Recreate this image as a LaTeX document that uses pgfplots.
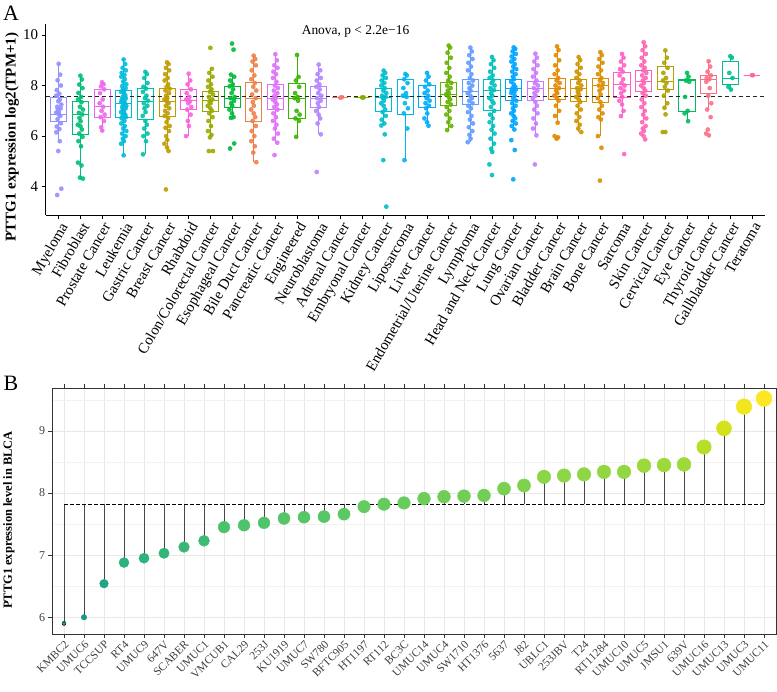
\documentclass[border=0pt]{standalone}
\usepackage{pgfplots}
\pgfplotsset{compat=1.18}
\usepackage{pgfplotstable}
\usepgfplotslibrary{statistics}
\usepackage{fontspec}
\setmainfont{Liberation Serif}

\definecolor{c1}{HTML}{9191FF}
\definecolor{c2}{HTML}{00BF78}
\definecolor{c3}{HTML}{EE67EC}
\definecolor{c4}{HTML}{00BBDB}
\definecolor{c5}{HTML}{00C1A7}
\definecolor{c6}{HTML}{BF9C00}
\definecolor{c7}{HTML}{F962DC}
\definecolor{c8}{HTML}{9BA800}
\definecolor{c9}{HTML}{00BA38}
\definecolor{c10}{HTML}{EF7F49}
\definecolor{c11}{HTML}{DF70F8}
\definecolor{c12}{HTML}{37B600}
\definecolor{c13}{HTML}{B385FF}
\definecolor{c14}{HTML}{F8766D}
\definecolor{c15}{HTML}{84AD00}
\definecolor{c16}{HTML}{00BECE}
\definecolor{c17}{HTML}{00B5EE}
\definecolor{c18}{HTML}{00ACFC}
\definecolor{c19}{HTML}{65B200}
\definecolor{c20}{HTML}{619CFF}
\definecolor{c21}{HTML}{00C0BB}
\definecolor{c22}{HTML}{00A5FF}
\definecolor{c23}{HTML}{CC7AFD}
\definecolor{c24}{HTML}{E58700}
\definecolor{c25}{HTML}{CF9400}
\definecolor{c26}{HTML}{DB8E00}
\definecolor{c27}{HTML}{FF61C9}
\definecolor{c28}{HTML}{FF63B5}
\definecolor{c29}{HTML}{AEA200}
\definecolor{c30}{HTML}{00BD5C}
\definecolor{c31}{HTML}{FD6F86}
\definecolor{c32}{HTML}{00C091}
\definecolor{c33}{HTML}{FF67A0}

\pgfplotstableread[row sep=\\]{
x y c\\
1.00 8.86 0\\1.07 8.43 0\\0.95 8.21 0\\1.10 8.00 0\\0.91 7.82 0\\1.03 7.68 0\\0.89 7.60 0\\1.05 7.45 0\\0.98 7.38 0\\1.12 7.25 0\\0.93 7.16 0\\1.09 7.10 0\\0.96 7.05 0\\1.01 6.95 0\\0.88 6.92 0\\1.00 6.86 0\\1.07 6.80 0\\0.95 6.67 0\\1.10 6.51 0\\0.91 6.38 0\\1.03 6.28 0\\0.89 6.15 0\\1.05 5.80 0\\0.98 5.41 0\\1.12 3.92 0\\0.93 3.67 0\\
2.00 8.39 1\\2.07 8.24 1\\1.95 8.04 1\\2.10 7.90 1\\1.91 7.71 1\\2.03 7.55 1\\1.89 7.45 1\\2.05 7.34 1\\1.98 7.16 1\\2.12 7.05 1\\1.93 6.92 1\\2.09 6.86 1\\1.96 6.72 1\\2.01 6.59 1\\1.88 6.45 1\\2.00 6.39 1\\2.07 6.26 1\\1.95 6.10 1\\2.10 5.97 1\\1.91 5.80 1\\2.03 5.60 1\\1.89 4.95 1\\2.05 4.84 1\\1.98 4.36 1\\2.12 4.32 1\\
3.00 8.13 2\\3.07 8.05 2\\2.95 7.97 2\\3.10 7.85 2\\2.91 7.70 2\\3.03 7.45 2\\2.89 7.30 2\\3.05 7.16 2\\2.98 7.00 2\\3.12 6.85 2\\2.93 6.75 2\\3.09 6.60 2\\2.96 6.35 2\\3.01 6.22 2\\
4.00 9.03 3\\4.07 8.85 3\\3.95 8.70 3\\4.10 8.60 3\\3.91 8.50 3\\4.03 8.42 3\\3.89 8.35 3\\4.05 8.25 3\\3.98 8.15 3\\4.12 8.05 3\\3.93 7.98 3\\4.09 7.90 3\\3.96 7.85 3\\4.01 7.80 3\\3.88 7.75 3\\
4.00 7.70 3\\4.07 7.62 3\\3.95 7.55 3\\4.10 7.50 3\\3.91 7.45 3\\4.03 7.40 3\\3.89 7.35 3\\4.05 7.30 3\\3.98 7.25 3\\4.12 7.20 3\\3.93 7.15 3\\4.09 7.10 3\\3.96 7.05 3\\4.01 7.00 3\\3.88 6.95 3\\
4.00 6.90 3\\4.07 6.85 3\\3.95 6.80 3\\4.10 6.75 3\\3.91 6.70 3\\4.03 6.60 3\\3.89 6.50 3\\4.05 6.40 3\\3.98 6.30 3\\4.12 6.20 3\\3.93 6.10 3\\4.09 6.00 3\\3.96 5.90 3\\4.01 5.80 3\\3.88 5.70 3\\4.00 5.24 3\\
5.00 8.54 4\\5.07 8.45 4\\4.95 8.30 4\\5.10 8.10 4\\4.91 7.95 4\\5.03 7.88 4\\4.89 7.75 4\\5.05 7.60 4\\4.98 7.50 4\\5.12 7.40 4\\4.93 7.30 4\\5.09 7.20 4\\4.96 7.10 4\\5.01 6.95 4\\4.88 6.80 4\\5.00 6.60 4\\5.07 6.45 4\\4.95 6.30 4\\5.10 6.10 4\\4.91 6.00 4\\5.03 5.80 4\\4.89 5.28 4\\
6.00 8.92 5\\6.07 8.85 5\\5.95 8.70 5\\6.10 8.60 5\\5.91 8.45 5\\6.03 8.30 5\\5.89 8.20 5\\6.05 8.05 5\\5.98 7.95 5\\6.12 7.88 5\\5.93 7.80 5\\6.09 7.70 5\\5.96 7.60 5\\6.01 7.50 5\\5.88 7.45 5\\6.00 7.37 5\\6.07 7.30 5\\5.95 7.20 5\\6.10 7.10 5\\5.91 7.00 5\\6.03 6.90 5\\5.89 6.80 5\\6.05 6.70 5\\5.98 6.55 5\\6.12 6.40 5\\5.93 6.33 5\\6.09 6.20 5\\5.96 6.00 5\\6.01 5.85 5\\5.88 5.70 5\\6.00 5.55 5\\6.07 5.41 5\\5.95 3.89 5\\
7.00 8.47 6\\7.07 8.20 6\\6.95 8.05 6\\7.10 7.85 6\\6.91 7.70 6\\7.03 7.55 6\\6.89 7.45 6\\7.05 7.38 6\\6.98 7.30 6\\7.12 7.15 6\\6.93 7.05 6\\7.09 6.85 6\\6.96 6.60 6\\7.01 6.40 6\\6.88 6.00 6\\
8.00 9.49 7\\8.07 8.66 7\\7.95 8.50 7\\8.10 8.35 7\\7.91 8.20 7\\8.03 8.05 7\\7.89 7.95 7\\8.05 7.85 7\\7.98 7.75 7\\8.12 7.65 7\\7.93 7.55 7\\8.09 7.45 7\\7.96 7.38 7\\8.01 7.30 7\\7.88 7.20 7\\8.00 7.10 7\\8.07 7.00 7\\7.95 6.90 7\\8.10 6.75 7\\7.91 6.60 7\\8.03 6.40 7\\7.89 6.20 7\\8.05 6.05 7\\7.98 5.95 7\\8.12 5.41 7\\7.93 5.41 7\\
9.00 9.66 8\\9.07 9.42 8\\8.95 8.43 8\\9.10 8.35 8\\8.91 8.20 8\\9.03 8.05 8\\8.89 7.97 8\\9.05 7.85 8\\8.98 7.70 8\\9.12 7.55 8\\8.93 7.50 8\\9.09 7.40 8\\8.96 7.30 8\\9.01 7.20 8\\8.88 7.05 8\\9.00 6.90 8\\9.07 6.75 8\\8.95 6.72 8\\9.10 5.71 8\\8.91 5.51 8\\
10.00 9.18 9\\10.07 9.05 9\\9.95 8.95 9\\10.10 8.80 9\\9.91 8.60 9\\10.03 8.40 9\\9.89 8.25 9\\10.05 8.10 9\\9.98 7.95 9\\10.12 7.80 9\\9.93 7.65 9\\10.09 7.50 9\\9.96 7.35 9\\10.01 7.20 9\\9.88 7.05 9\\10.00 6.90 9\\10.07 6.75 9\\9.95 6.60 9\\10.10 6.40 9\\9.91 6.20 9\\10.03 6.00 9\\9.89 5.80 9\\10.05 5.60 9\\9.98 5.35 9\\10.12 4.97 9\\
11.00 9.24 10\\11.07 9.00 10\\10.95 8.80 10\\11.10 8.70 10\\10.91 8.55 10\\11.03 8.45 10\\10.89 8.30 10\\11.05 8.15 10\\10.98 8.00 10\\11.12 7.90 10\\10.93 7.80 10\\11.09 7.70 10\\10.96 7.60 10\\11.01 7.50 10\\10.88 7.45 10\\11.00 7.35 10\\11.07 7.25 10\\10.95 7.15 10\\11.10 7.05 10\\10.91 6.90 10\\11.03 6.75 10\\10.89 6.60 10\\11.05 6.45 10\\10.98 6.30 10\\11.12 6.10 10\\10.93 5.90 10\\11.09 5.74 10\\10.96 5.25 10\\
12.00 9.21 11\\12.07 8.34 11\\11.95 8.20 11\\12.10 7.95 11\\11.91 7.70 11\\12.03 7.55 11\\11.89 7.50 11\\12.05 7.40 11\\11.98 7.00 11\\12.12 6.85 11\\11.93 6.70 11\\12.09 6.60 11\\11.96 5.97 11\\
13.00 8.83 12\\13.07 8.60 12\\12.95 8.45 12\\13.10 8.30 12\\12.91 8.20 12\\13.03 8.05 12\\12.89 7.95 12\\13.05 7.85 12\\12.98 7.70 12\\13.12 7.60 12\\12.93 7.50 12\\13.09 7.40 12\\12.96 7.30 12\\13.01 7.15 12\\12.88 7.00 12\\13.00 6.85 12\\13.07 6.70 12\\12.95 6.50 12\\13.10 6.07 12\\12.91 4.58 12\\
14.00 7.52 13\\14.07 7.54 13\\
15.00 7.53 14\\15.07 7.53 14\\
16.00 8.59 15\\16.07 8.50 15\\15.95 8.40 15\\16.10 8.30 15\\15.91 8.20 15\\16.03 8.10 15\\15.89 8.00 15\\16.05 7.90 15\\15.98 7.80 15\\16.12 7.70 15\\15.93 7.60 15\\16.09 7.55 15\\15.96 7.50 15\\16.01 7.40 15\\15.88 7.30 15\\16.00 7.20 15\\16.07 7.05 15\\15.95 6.95 15\\16.10 6.80 15\\15.91 6.65 15\\16.03 6.50 15\\15.89 6.42 15\\16.05 6.07 15\\15.98 5.05 15\\16.12 3.21 15\\
17.00 8.46 16\\17.07 8.40 16\\16.95 8.25 16\\17.10 8.10 16\\16.91 7.90 16\\17.03 7.70 16\\16.89 7.60 16\\17.05 7.55 16\\16.98 7.30 16\\17.12 7.10 16\\16.93 6.90 16\\17.09 6.30 16\\16.96 5.05 16\\
18.00 8.50 17\\18.07 8.35 17\\17.95 8.20 17\\18.10 8.05 17\\17.91 7.95 17\\18.03 7.80 17\\17.89 7.70 17\\18.05 7.60 17\\17.98 7.50 17\\18.12 7.40 17\\17.93 7.30 17\\18.09 7.20 17\\17.96 7.10 17\\18.01 6.90 17\\17.88 6.70 17\\18.00 6.55 17\\18.07 6.41 17\\
19.00 9.58 18\\19.07 9.50 18\\18.95 9.30 18\\19.10 9.10 18\\18.91 8.90 18\\19.03 8.70 18\\18.89 8.50 18\\19.05 8.35 18\\18.98 8.20 18\\19.12 8.10 18\\18.93 8.00 18\\19.09 7.90 18\\18.96 7.80 18\\19.01 7.70 18\\18.88 7.65 18\\19.00 7.55 18\\19.07 7.45 18\\18.95 7.35 18\\19.10 7.25 18\\18.91 7.15 18\\19.03 7.00 18\\18.89 6.85 18\\19.05 6.70 18\\18.98 6.55 18\\19.12 6.40 18\\18.93 6.24 18\\
20.00 9.50 19\\20.07 9.35 19\\19.95 9.20 19\\20.10 9.05 19\\19.91 8.90 19\\20.03 8.75 19\\19.89 8.60 19\\20.05 8.45 19\\19.98 8.30 19\\20.12 8.20 19\\19.93 8.10 19\\20.09 8.00 19\\19.96 7.90 19\\20.01 7.80 19\\19.88 7.70 19\\20.00 7.60 19\\20.07 7.50 19\\19.95 7.40 19\\20.10 7.30 19\\19.91 7.20 19\\20.03 7.10 19\\19.89 6.95 19\\20.05 6.80 19\\19.98 6.65 19\\20.12 6.50 19\\19.93 6.35 19\\20.09 6.20 19\\19.96 6.05 19\\20.01 5.90 19\\19.88 5.76 19\\
21.00 9.13 20\\21.07 9.00 20\\20.95 8.85 20\\21.10 8.70 20\\20.91 8.55 20\\21.03 8.40 20\\20.89 8.30 20\\21.05 8.20 20\\20.98 8.10 20\\21.12 8.00 20\\20.93 7.90 20\\21.09 7.82 20\\20.96 7.70 20\\21.01 7.60 20\\20.88 7.50 20\\21.00 7.40 20\\21.07 7.30 20\\20.95 7.15 20\\21.10 7.00 20\\20.91 6.85 20\\21.03 6.70 20\\20.89 6.55 20\\21.05 6.40 20\\20.98 6.25 20\\21.12 6.10 20\\20.93 5.90 20\\21.09 5.70 20\\20.96 5.50 20\\21.01 5.37 20\\20.88 4.88 20\\21.00 4.46 20\\
22.00 9.51 21\\22.07 9.45 21\\21.95 9.35 21\\22.10 9.25 21\\21.91 9.15 21\\22.03 9.05 21\\21.89 8.95 21\\22.05 8.85 21\\21.98 8.75 21\\22.12 8.65 21\\21.93 8.55 21\\22.09 8.45 21\\21.96 8.35 21\\22.01 8.25 21\\21.88 8.15 21\\22.00 8.05 21\\22.07 7.95 21\\21.95 7.90 21\\22.10 7.85 21\\21.91 7.80 21\\22.03 7.75 21\\21.89 7.70 21\\22.05 7.60 21\\21.98 7.50 21\\22.12 7.40 21\\21.93 7.30 21\\22.09 7.20 21\\21.96 7.10 21\\22.01 7.00 21\\21.88 6.90 21\\22.00 6.80 21\\22.07 6.70 21\\21.95 6.60 21\\22.10 6.50 21\\21.91 6.40 21\\22.03 6.26 21\\21.89 5.84 21\\22.05 5.45 21\\21.98 4.29 21\\
23.00 9.26 22\\23.07 9.10 22\\22.95 8.95 22\\23.10 8.80 22\\22.91 8.65 22\\23.03 8.50 22\\22.89 8.35 22\\23.05 8.20 22\\22.98 8.10 22\\23.12 8.00 22\\22.93 7.90 22\\23.09 7.80 22\\22.96 7.70 22\\23.01 7.60 22\\22.88 7.50 22\\23.00 7.35 22\\23.07 7.20 22\\22.95 7.05 22\\23.10 6.90 22\\22.91 6.70 22\\23.03 6.50 22\\22.89 6.30 22\\23.05 6.03 22\\22.98 4.88 22\\
24.00 9.55 23\\24.07 9.40 23\\23.95 9.20 23\\24.10 9.00 23\\23.91 8.80 23\\24.03 8.60 23\\23.89 8.45 23\\24.05 8.30 23\\23.98 8.20 23\\24.12 8.10 23\\23.93 8.00 23\\24.09 7.90 23\\23.96 7.80 23\\24.01 7.70 23\\23.88 7.60 23\\24.00 7.50 23\\24.07 7.40 23\\23.95 7.20 23\\24.10 7.00 23\\23.91 6.80 23\\24.03 6.53 23\\23.89 6.00 23\\24.05 5.95 23\\23.98 5.90 23\\
25.00 9.13 24\\25.07 9.00 24\\24.95 8.85 24\\25.10 8.70 24\\24.91 8.55 24\\25.03 8.45 24\\24.89 8.30 24\\25.05 8.20 24\\24.98 8.10 24\\25.12 8.00 24\\24.93 7.90 24\\25.09 7.85 24\\24.96 7.75 24\\25.01 7.65 24\\24.88 7.55 24\\25.00 7.45 24\\25.07 7.35 24\\24.95 7.20 24\\25.10 7.05 24\\24.91 6.90 24\\25.03 6.75 24\\24.89 6.60 24\\25.05 6.45 24\\24.98 6.30 24\\25.12 6.16 24\\
26.00 9.32 25\\26.07 9.20 25\\25.95 9.05 25\\26.10 8.90 25\\25.91 8.75 25\\26.03 8.60 25\\25.89 8.45 25\\26.05 8.30 25\\25.98 8.20 25\\26.12 8.10 25\\25.93 8.00 25\\26.09 7.90 25\\25.96 7.80 25\\26.01 7.65 25\\25.88 7.50 25\\26.00 7.35 25\\26.07 7.20 25\\25.95 7.05 25\\26.10 6.90 25\\25.91 6.75 25\\26.03 6.66 25\\25.89 6.00 25\\26.05 5.54 25\\25.98 4.24 25\\
27.00 9.25 26\\27.07 9.10 26\\26.95 8.95 26\\27.10 8.80 26\\26.91 8.65 26\\27.03 8.55 26\\26.89 8.40 26\\27.05 8.25 26\\26.98 8.10 26\\27.12 8.00 26\\26.93 7.90 26\\27.09 7.80 26\\26.96 7.70 26\\27.01 7.55 26\\26.88 7.40 26\\27.00 7.25 26\\27.07 7.00 26\\26.95 6.79 26\\27.10 5.29 26\\
28.00 9.71 27\\28.07 9.55 27\\27.95 9.40 27\\28.10 9.25 27\\27.91 9.10 27\\28.03 8.95 27\\27.89 8.80 27\\28.05 8.70 27\\27.98 8.60 27\\28.12 8.50 27\\27.93 8.40 27\\28.09 8.30 27\\27.96 8.20 27\\28.01 8.10 27\\27.88 8.00 27\\28.00 7.90 27\\28.07 7.80 27\\27.95 7.70 27\\28.10 7.60 27\\27.91 7.45 27\\28.03 7.30 27\\27.89 7.15 27\\28.05 7.00 27\\27.98 6.85 27\\28.12 6.70 27\\27.93 6.55 27\\28.09 6.40 27\\27.96 6.30 27\\28.01 6.20 27\\27.88 6.10 27\\28.00 6.00 27\\28.07 5.87 27\\
29.00 9.39 28\\29.07 9.10 28\\28.95 8.90 28\\29.10 8.70 28\\28.91 8.50 28\\29.03 8.30 28\\28.89 8.20 28\\29.05 8.10 28\\28.98 7.95 28\\29.12 7.80 28\\28.93 7.60 28\\29.09 7.30 28\\28.96 7.12 28\\29.01 6.86 28\\28.88 6.16 28\\29.00 6.16 28\\
30.00 8.50 29\\30.07 8.35 29\\29.95 8.20 29\\30.10 8.15 29\\29.91 7.55 29\\30.03 7.00 29\\29.89 6.90 29\\30.05 6.59 29\\
31.00 8.96 30\\31.07 8.75 30\\30.95 8.55 30\\31.10 8.40 30\\30.91 8.30 30\\31.03 8.25 30\\30.89 8.15 30\\31.05 7.90 30\\30.98 7.60 30\\31.12 7.30 30\\30.93 7.05 30\\31.09 6.75 30\\30.96 6.26 30\\31.01 6.03 30\\30.88 6.10 30\\
32.00 9.16 31\\32.07 9.10 31\\31.95 8.50 31\\32.10 8.30 31\\31.91 7.95 31\\32.03 7.84 31\\
33.00 8.41 32\\33.04 8.41 32\\
}\ptsA

\pgfplotstableread{
x y
1 5.90
2 6.00
3 6.54
4 6.88
5 6.95
6 7.03
7 7.13
8 7.23
9 7.45
10 7.48
11 7.52
12 7.59
13 7.61
14 7.62
15 7.66
16 7.78
17 7.82
18 7.84
19 7.91
20 7.94
21 7.95
22 7.96
23 8.07
24 8.12
25 8.26
26 8.28
27 8.30
28 8.34
29 8.34
30 8.44
31 8.45
32 8.46
33 8.74
34 9.04
35 9.39
36 9.52
}\ptsB

% box (colour, position, whiskers/quartiles/median) followed by that category's points
\newcommand{\bx}[7]{%
\addplot[draw=#1, fill=white, line width=0.8bp, solid, mark=none,
  boxplot/draw direction=y,
  boxplot prepared={draw position=#2, lower whisker=#3, lower quartile=#4, median=#5,
  upper quartile=#6, upper whisker=#7, box extend=0.75, whisker extend=0}] coordinates {};
\addplot[only marks, mark=*, mark size=2.1bp, draw=#1, fill=#1, opacity=0.9,
  restrict expr to domain={\thisrow{c}+1}{#2:#2}] table[x=x, y=y] {\ptsA};}

\begin{document}
\begin{tikzpicture}
\path[use as bounding box] (0bp,0bp) rectangle (777bp,692bp);

\begin{axis}[at={(45.7bp,477bp)}, anchor=south west, scale only axis,
  width=719.3bp, height=191.4bp,
  xmin=0.4, xmax=33.6, ymin=2.88, ymax=10.45,
  axis lines=left, axis line style={-, line width=0.6bp, black},
  x axis line style={-}, y axis line style={-},
  tick align=outside, major tick length=4bp, tick style={line width=0.6bp, black},
  xtick={1,...,33},
  xticklabels={Myeloma,Fibroblast,Prostate Cancer,Leukemia,Gastric Cancer,Breast Cancer,Rhabdoid,Colon/Colorectal Cancer,Esophageal Cancer,Bile Duct Cancer,Pancreatic Cancer,Engineered,Neuroblastoma,Adrenal Cancer,Embryonal Cancer,Kidney Cancer,Liposarcoma,Liver Cancer,Endometrial/Uterine Cancer,Lymphoma,Head and Neck Cancer,Lung Cancer,Ovarian Cancer,Bladder Cancer,Brain Cancer,Bone Cancer,Sarcoma,Skin Cancer,Cervical Cancer,Eye Cancer,Thyroid Cancer,Gallbladder Cancer,Teratoma},
  xticklabel style={rotate=60, anchor=north east, inner sep=1.5bp, font=\fontsize{15}{15}\selectfont},
  ytick={4,6,8,10},
  yticklabel style={font=\fontsize{15}{15}\selectfont},
  /pgf/number format/assume math mode=true,
]
\bx{c1}{1}{5.80}{6.59}{6.86}{7.54}{8.86}
\bx{c2}{2}{4.32}{6.05}{6.87}{7.36}{8.39}
\bx{c3}{3}{6.22}{6.75}{7.16}{7.84}{8.13}
\bx{c4}{4}{5.24}{6.75}{7.29}{7.82}{9.03}
\bx{c5}{5}{5.28}{6.68}{7.36}{7.88}{8.54}
\bx{c6}{6}{5.41}{6.76}{7.37}{7.88}{8.92}
\bx{c7}{7}{6.00}{7.05}{7.41}{7.84}{8.47}
\bx{c8}{8}{5.95}{6.97}{7.43}{7.76}{8.66}
\bx{c9}{9}{6.72}{7.14}{7.50}{7.97}{8.43}
\bx{c10}{10}{4.97}{6.58}{7.50}{8.13}{9.18}
\bx{c11}{11}{5.74}{7.05}{7.49}{8.03}{9.24}
\bx{c12}{12}{5.97}{6.70}{7.50}{8.09}{9.21}
\bx{c13}{13}{6.07}{7.13}{7.50}{7.97}{8.83}
\bx{c14}{14}{7.53}{7.53}{7.53}{7.53}{7.53}
\bx{c15}{15}{7.53}{7.53}{7.53}{7.53}{7.53}
\bx{c16}{16}{6.42}{6.97}{7.55}{7.87}{8.59}
\bx{c17}{17}{5.05}{6.86}{7.58}{8.24}{8.46}
\bx{c18}{18}{6.41}{7.14}{7.58}{8.00}{8.50}
\bx{c19}{19}{6.24}{7.21}{7.64}{8.13}{9.58}
\bx{c20}{20}{5.76}{7.25}{7.76}{8.24}{9.50}
\bx{c21}{21}{5.37}{7.01}{7.82}{8.26}{9.13}
\bx{c22}{22}{6.26}{7.41}{7.87}{8.24}{9.51}
\bx{c23}{23}{6.03}{7.41}{7.87}{8.16}{9.26}
\bx{c24}{24}{6.53}{7.47}{7.88}{8.30}{9.55}
\bx{c25}{25}{6.16}{7.39}{7.87}{8.24}{9.13}
\bx{c26}{26}{6.00}{7.32}{8.01}{8.30}{9.32}
\bx{c27}{27}{6.79}{7.55}{8.03}{8.53}{9.25}
\bx{c28}{28}{6.50}{7.76}{8.16}{8.61}{9.71}
\bx{c29}{29}{7.12}{7.84}{8.17}{8.76}{9.39}
\bx{c30}{30}{6.59}{6.99}{8.20}{8.26}{8.50}
\bx{c31}{31}{7.05}{7.68}{8.24}{8.39}{8.96}
\bx{c32}{32}{7.84}{8.03}{8.30}{8.95}{9.16}
\bx{c33}{33}{8.41}{8.41}{8.41}{8.41}{8.41}
\addplot[black!85, line width=0.6bp, dash pattern=on 4bp off 3bp] coordinates {(0.4,7.58) (33.6,7.58)};
\node[font=\fontsize{13.5}{13.5}\selectfont] at (axis cs:14.7,10.13) {Anova, p < 2.2e−16};
\end{axis}

\begin{axis}[at={(52bp,58bp)}, anchor=south west, scale only axis,
  width=724bp, height=246bp,
  xmin=0.4, xmax=36.6, ymin=5.73, ymax=9.69,
  axis line style={draw=black!80, line width=0.6bp},
  tick align=outside, major tick length=3.5bp, minor tick length=0bp,
  tick style={black!80, line width=0.5bp},
  xtick={1,...,36},
  xticklabels={KMBC2,UMUC6,TCCSUP,RT4,UMUC9,647V,SCABER,UMUC1,VMCUB1,CAL29,253J,KU1919,UMUC7,SW780,BFTC905,HT1197,RT112,BC3C,UMUC14,UMUC4,SW1710,HT1376,5637,J82,UBLC1,253JBV,T24,RT11284,UMUC10,UMUC5,JMSU1,639V,UMUC16,UMUC13,UMUC3,UMUC11},
  xticklabel style={rotate=45, anchor=north east, inner sep=1.5bp, font=\fontsize{11.5}{11.5}\selectfont, text=black!75},
  ytick={6,7,8,9}, minor ytick={6.5,7.5,8.5,9.5},
  yticklabel style={font=\fontsize{12}{12}\selectfont, text=black!75},
  /pgf/number format/assume math mode=true,
  grid=both, major grid style={black!9, line width=0.6bp}, minor grid style={black!5, line width=0.4bp},
  colormap={vir}{rgb255=(33,144,141) rgb255=(31,154,138) rgb255=(34,168,132) rgb255=(47,180,124) rgb255=(68,191,112) rgb255=(94,201,98) rgb255=(122,209,81) rgb255=(155,217,60) rgb255=(189,223,38) rgb255=(223,227,24) rgb255=(253,231,37)},
  point meta min=5.9, point meta max=9.52,
]
\addplot[only marks, mark=none, error bars/.cd, y dir=both, y explicit, error mark=none,
  error bar style={draw=black!72, line width=0.8bp}]
  table[x=x, y=y, y error plus expr={max(7.82-\thisrow{y},0)}, y error minus expr={max(\thisrow{y}-7.82,0)}] {\ptsB};
\addplot[black, line width=0.6bp, dash pattern=on 3.5bp off 2.5bp] coordinates {(1,7.82) (36,7.82)};
\addplot[scatter, only marks, mark=*, point meta=\thisrow{y},
  scatter/use mapped color={draw=mapped color, fill=mapped color},
  visualization depends on={0.5*(3.5+12.5*sqrt(max(\thisrow{y}-5.9,0)/3.62)) \as \msz},
  scatter/@pre marker code/.append style={/tikz/mark size=\msz}]
  table[x=x, y=y] {\ptsB};
\end{axis}

\node[rotate=90, font=\bfseries\fontsize{15}{15}\selectfont] at (12bp,555bp) {PTTG1 expression log2(TPM+1)};
\node[rotate=90, font=\bfseries\fontsize{12.5}{12.5}\selectfont] at (9bp,172bp) {PTTG1 expression level in BLCA};
\node[font=\fontsize{22}{22}\selectfont] at (11bp,679bp) {A};
\node[font=\fontsize{22}{22}\selectfont] at (11bp,309bp) {B};
\end{tikzpicture}
\end{document}
